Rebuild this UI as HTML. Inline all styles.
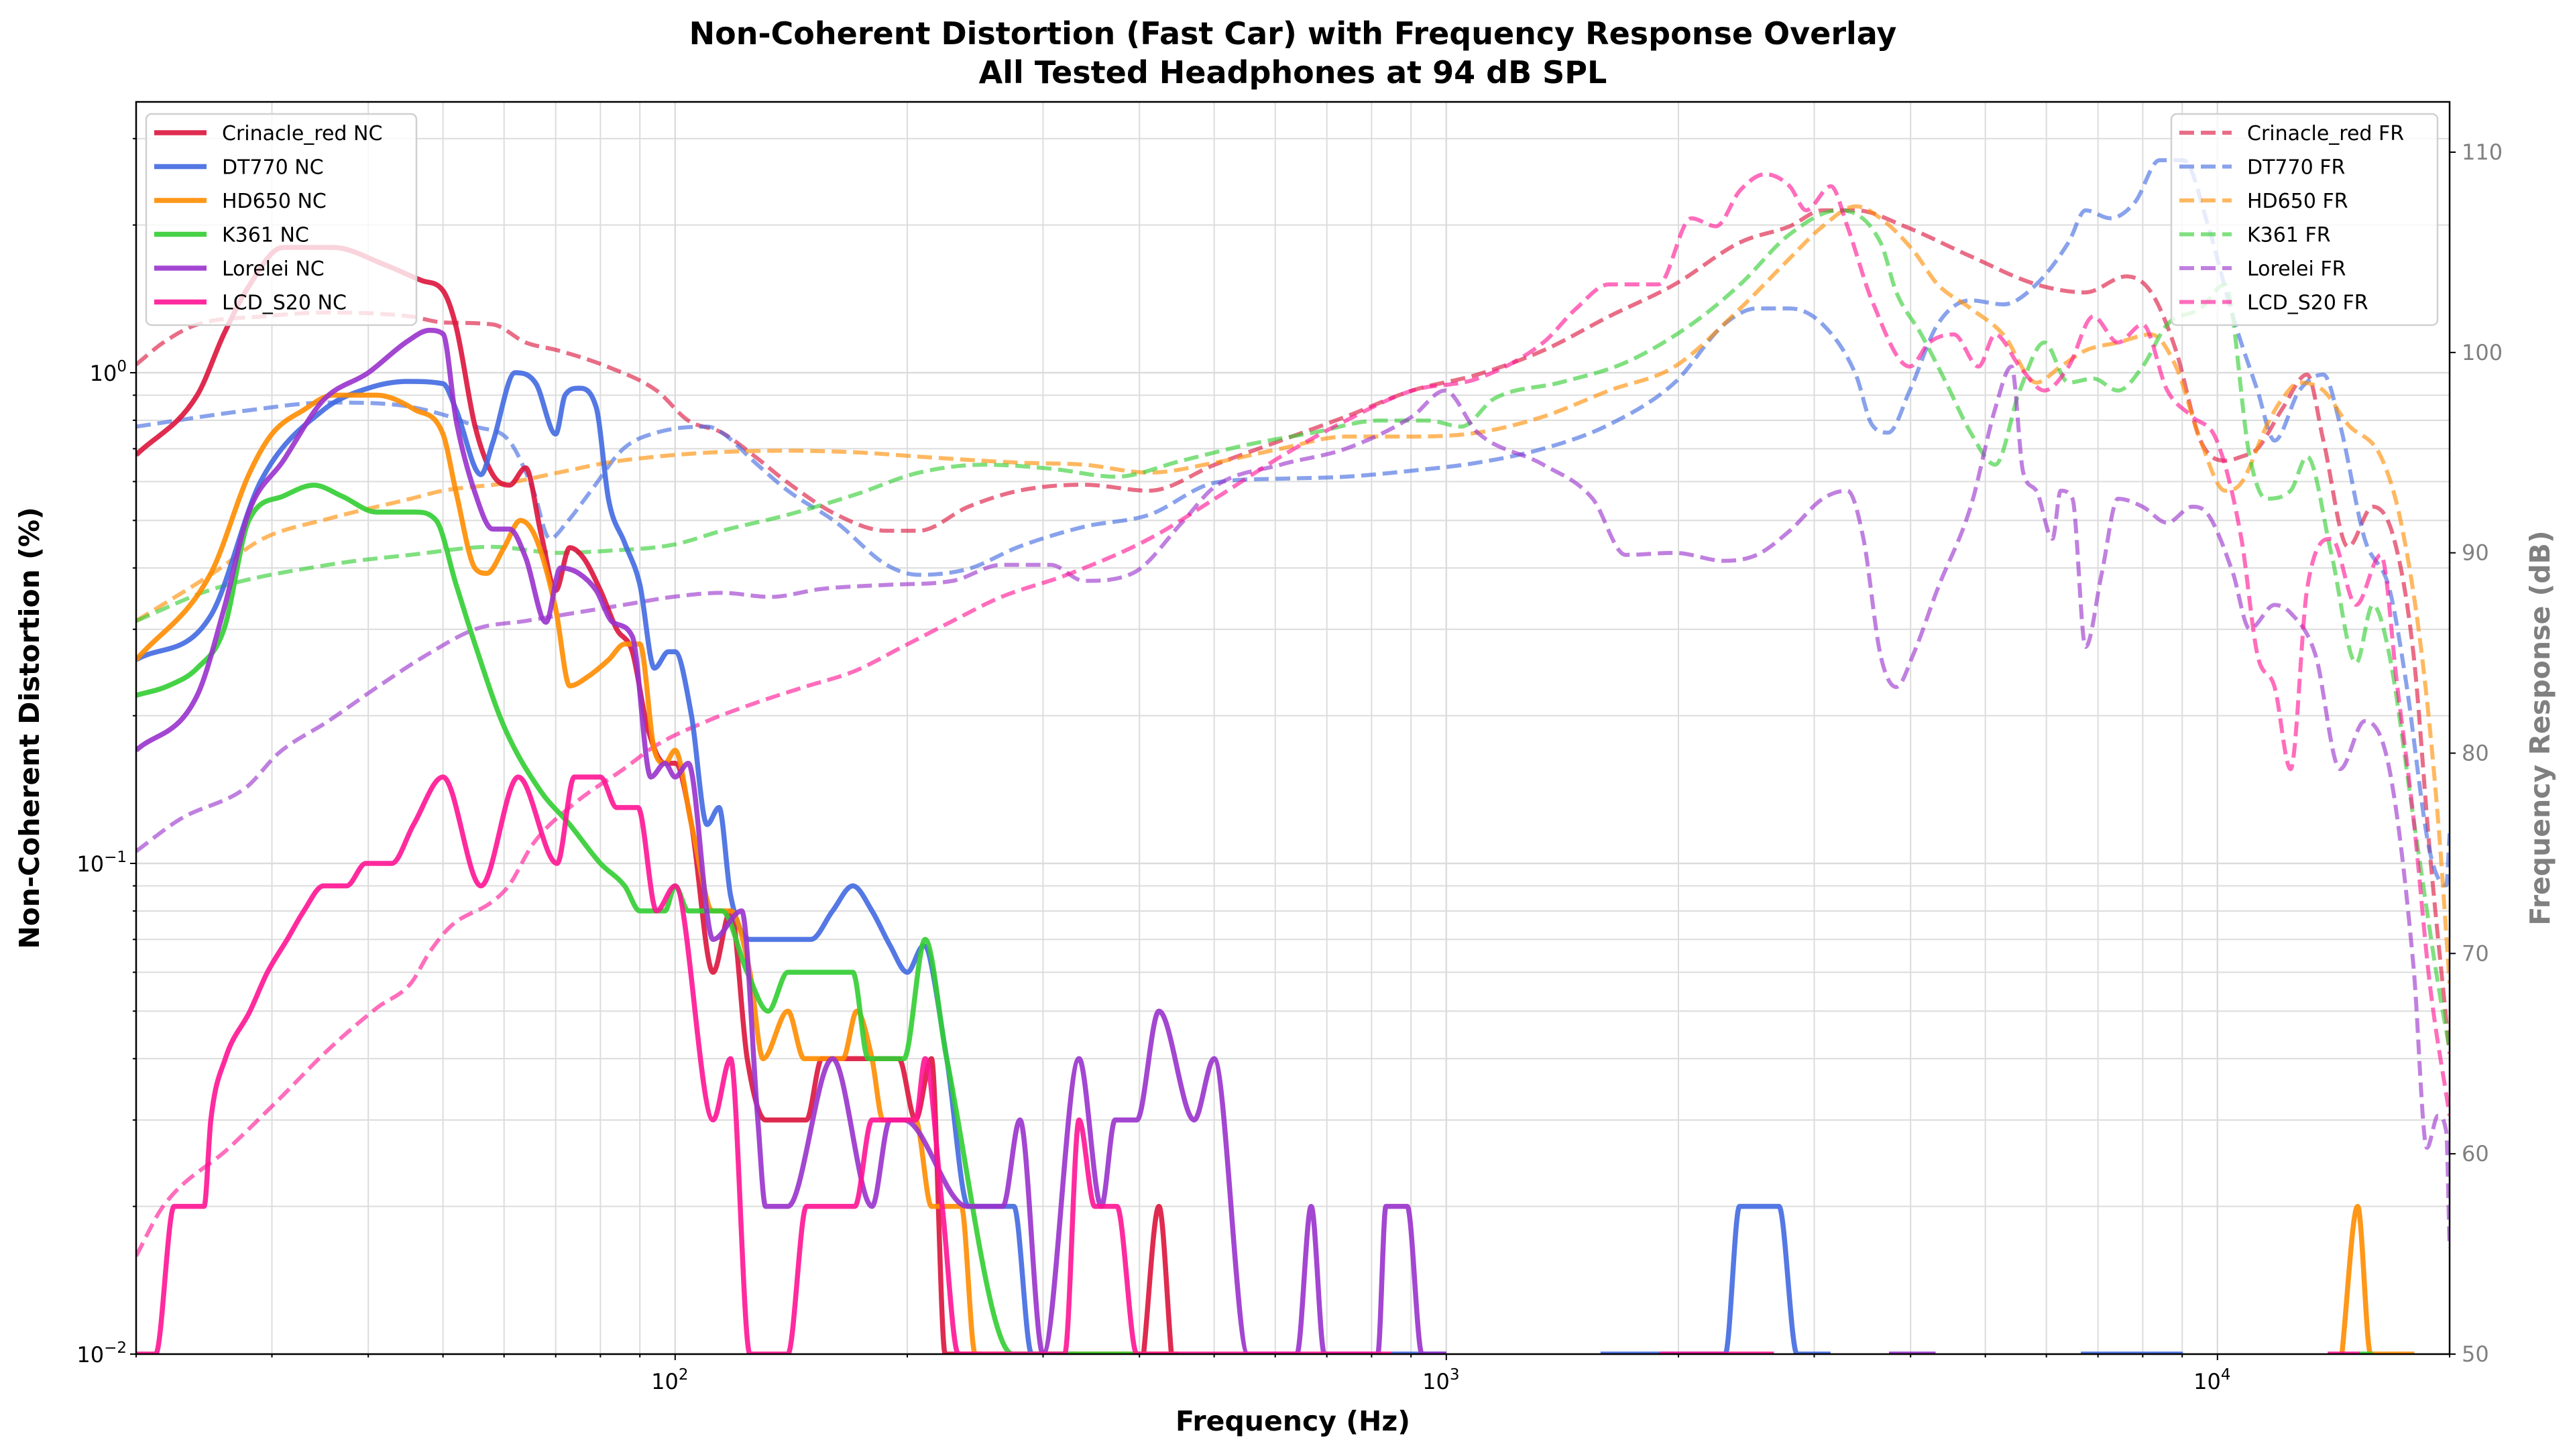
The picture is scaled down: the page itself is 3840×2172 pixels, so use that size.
<!DOCTYPE html>
<html><head><meta charset="utf-8"><style>
html,body{margin:0;padding:0;background:#fff}
svg{display:block;font-family:"DejaVu Sans","Liberation Sans",sans-serif}
</style></head><body>
<svg id="chart" width="3840" height="2172" viewBox="0 0 3840 2172" xmlns="http://www.w3.org/2000/svg">
<defs><clipPath id="plotclip"><rect x="203" y="152" width="3450" height="1868"/></clipPath></defs>
<rect width="3840" height="2172" fill="#fff"/>
<text x="1928" y="66" text-anchor="middle" font-size="46" font-weight="bold">Non-Coherent Distortion (Fast Car) with Frequency Response Overlay</text>
<text x="1928" y="124" text-anchor="middle" font-size="46" font-weight="bold">All Tested Headphones at 94 dB SPL</text>
<g id="grid"></g>
<g id="frlines" clip-path="url(#plotclip)"></g>
<g id="nclines" clip-path="url(#plotclip)"></g>
<rect x="203" y="152" width="3450" height="1868" fill="none" stroke="#000" stroke-width="2.5"/>
<g id="axes"></g>
<text x="1928" y="2134" text-anchor="middle" font-size="41" font-weight="bold">Frequency (Hz)</text>
<text transform="translate(58,1086) rotate(-90)" text-anchor="middle" font-size="41" font-weight="bold">Non-Coherent Distortion (%)</text>
<text transform="translate(3802,1086) rotate(-90)" text-anchor="middle" font-size="41" font-weight="bold" fill="#808080">Frequency Response (dB)</text>
<g id="legends"></g>
</svg>
<script>
const names = ["Crinacle_red","DT770","HD650","K361","Lorelei","LCD_S20"];
const colors = ["#dc143c","#4169e1","#ff8c00","#32cd32","#9932cc","#ff1493"];
const yTicks = [0.01,0.1,1];
const yTickLabels = ["10","10","10"];
const yTickExp = ["−2","−1","0"];
const xTicks = [100,1000,10000];
const xTickExp = ["2","3","4"];
const y2Ticks = [50,60,70,80,90,100,110];

const ncCrinacle = [[20,0.68],[24,0.9],[26,1.2],[28,1.5],[31,1.8],[36,1.8],[42,1.66],[47,1.54],[50,1.47],[52,1.24],[55,0.78],[58,0.62],[61,0.59],[64,0.64],[67,0.47],[70,0.36],[73,0.44],[76,0.42],[80,0.36],[84,0.3],[88,0.27],[92,0.19],[97,0.16],[100,0.16],[105,0.12],[112,0.06],[118,0.08],[124,0.04],[131,0.03],[148,0.03],[155,0.04],[195,0.04],[205,0.03],[215,0.04],[224,0.01],[250,0.01],null,[405,0.01],[424,0.02],[440,0.01],null];
const ncDT770 = [[20,0.26],[25,0.32],[29,0.6],[35,0.84],[40,0.93],[45,0.96],[50,0.95],[52,0.84],[56,0.62],[58,0.72],[62,1.0],[66,0.95],[70,0.75],[72,0.9],[75,0.93],[79,0.85],[82,0.55],[86,0.45],[90,0.37],[94,0.25],[98,0.27],[100,0.27],[105,0.2],[110,0.12],[114,0.13],[118,0.086],[125,0.07],[150,0.07],[160,0.08],[170,0.09],[180,0.08],[190,0.068],[200,0.06],[210,0.068],[225,0.04],[240,0.02],[275,0.02],[290,0.01],[330,0.01],null,[850,0.01],[1000,0.01],null,[1585,0.01],[2300,0.01],[2400,0.02],[2700,0.02],[2850,0.01],[3150,0.01],null,[6650,0.01],[9020,0.01],null];
const ncHD650 = [[20,0.26],[25,0.39],[28,0.62],[30,0.75],[33,0.84],[36,0.9],[41,0.9],[46,0.84],[50,0.75],[52,0.57],[55,0.4],[57,0.39],[60,0.44],[63,0.5],[66,0.46],[70,0.33],[73,0.23],[77,0.24],[82,0.26],[86,0.28],[90,0.28],[94,0.17],[97,0.16],[100,0.17],[105,0.12],[112,0.08],[118,0.08],[125,0.06],[130,0.04],[140,0.05],[147,0.04],[165,0.04],[172,0.05],[180,0.04],[186,0.03],[205,0.03],[215,0.02],[235,0.02],[245,0.01],[450,0.01],null,[14500,0.01],[15200,0.02],[15800,0.01],[18000,0.01],null];
const ncK361 = [[20,0.22],[22,0.23],[24,0.25],[26,0.3],[28,0.5],[31,0.56],[34,0.59],[37,0.56],[41,0.52],[46,0.52],[49,0.5],[52,0.37],[55,0.28],[60,0.19],[67,0.14],[73,0.12],[80,0.1],[86,0.09],[90,0.08],[97,0.08],[100,0.09],[104,0.08],[115,0.08],[124,0.06],[132,0.05],[140,0.06],[170,0.06],[178,0.04],[198,0.04],[211,0.07],[225,0.04],[274,0.01],[400,0.01],null,[15300,0.01],[15900,0.01],null];
const ncLorelei = [[20,0.17],[24,0.22],[26,0.33],[28,0.52],[31,0.66],[35,0.88],[40,1.0],[45,1.16],[48,1.22],[50,1.2],[52,0.8],[55,0.57],[58,0.48],[61,0.48],[64,0.42],[68,0.31],[71,0.4],[75,0.39],[79,0.36],[83,0.31],[88,0.29],[93,0.15],[97,0.16],[100,0.15],[104,0.16],[112,0.07],[122,0.08],[128,0.03],[131,0.02],[140,0.02],[160,0.04],[180,0.02],[190,0.03],[198,0.03],[239,0.02],[266,0.02],[280,0.03],[300,0.01],[334,0.04],[357,0.02],[372,0.03],[397,0.03],[424,0.05],[471,0.03],[500,0.04],[553,0.01],[640,0.01],[668,0.02],[695,0.01],[815,0.01],[835,0.02],[890,0.02],[930,0.01],[1000,0.01],null,[3750,0.01],[4310,0.01],null];
const ncLCD = [[20,0.01],[21.2,0.01],[22.4,0.02],[24.5,0.02],[25,0.03],[26.1,0.04],[28.1,0.05],[29.6,0.06],[31.4,0.07],[33,0.08],[35,0.09],[37.5,0.09],[39.7,0.1],[42.9,0.1],[45.8,0.12],[50,0.15],[56,0.09],[62.6,0.15],[70.3,0.1],[74,0.15],[80,0.15],[84,0.13],[89.5,0.13],[94.6,0.08],[100,0.09],[112,0.03],[118,0.04],[125,0.01],[140,0.01],[148,0.02],[171,0.02],[180,0.03],[205,0.03],[211,0.04],[222,0.02],[233,0.01],[320,0.01],[334,0.03],[350,0.02],[374,0.02],[397,0.01],[850,0.01],null,[1890,0.01],[2660,0.01],null,[13900,0.01],[15300,0.01],null];

const frCrinacle = [[20,99.4],[21.7,100.5],[24,101.4],[29.2,101.8],[35.5,102],[45.4,101.8],[50,101.5],[58,101.4],[64,100.5],[70.5,100.1],[81.6,99.3],[94.6,98.1],[104,96.6],[115,96],[127,94.8],[140,93.5],[162,91.9],[188,91.1],[207,91.1],[240,92.3],[279,93.1],[339,93.4],[412,93.1],[501,94.4],[610,95.6],[741,96.8],[903,98.1],[1098,98.9],[1336,100.1],[1626,101.8],[1978,103.4],[2405,105.5],[2788,106.3],[3077,107.1],[3396,107.1],[3929,106.3],[4786,104.8],[5823,103.4],[6745,103],[7620,103.8],[8206,103],[8834,100.1],[9508,95.6],[10230,94.6],[10740,94.8],[11270,95.2],[12140,97.2],[13070,98.9],[13720,95.6],[14770,90.3],[15900,92.3],[16940,90.7],[17960,84.9],[18850,75.1],[20000,65]];
const frDT770 = [[20,96.3],[27.8,97.1],[35.5,97.5],[43.2,97.4],[50,96.9],[55.2,96.3],[60.9,95.6],[65.5,93.1],[68.8,90.7],[72.3,91.5],[77.8,93.1],[85.7,95.2],[94.6,96],[110,96.3],[115,96],[127,94.5],[140,93.1],[162,91.5],[188,89.4],[207,88.9],[240,89.2],[279,90.3],[339,91.3],[412,91.9],[501,93.5],[610,93.7],[741,93.8],[903,94.1],[1098,94.5],[1336,95.2],[1626,96.4],[1978,98.5],[2292,101.4],[2528,102.2],[2788,102.2],[3077,101.4],[3396,98.9],[3564,96.4],[3742,96],[3990,98.1],[4336,101.4],[4786,102.6],[5275,102.4],[5823,103.4],[6411,105.5],[6745,107.1],[7262,106.7],[7816,107.5],[8411,109.6],[9040,109.6],[9730,106.3],[10470,101.8],[11270,98.1],[11860,95.6],[12770,98.1],[13720,98.9],[14420,96.4],[15520,90.7],[16710,88.2],[17540,83.7],[18850,75.1],[19800,73.4],[20000,76]];
const frHD650 = [[20,86.6],[25.2,89],[29.2,90.7],[35.5,91.7],[45.4,92.7],[50,93.1],[60.9,93.5],[70.5,94],[81.6,94.5],[94.6,94.8],[110,95],[140,95.1],[175,95],[207,94.8],[279,94.5],[339,94.4],[412,94],[501,94.5],[610,95.2],[741,95.8],[903,95.8],[1098,96],[1336,96.8],[1626,98.1],[1978,99.3],[2405,102.2],[2788,104.7],[3077,106.3],[3396,107.3],[3656,106.7],[4030,105.1],[4336,103.4],[4786,102.2],[5275,100.9],[5823,98.5],[6262,99.3],[6745,100.1],[7430,100.5],[8206,100.9],[8834,99.3],[9508,95.6],[10230,93.1],[10740,93.5],[11600,96.4],[12140,97.7],[12770,98.5],[13720,98.1],[14770,96.4],[16290,94.8],[17300,91.5],[18410,84.9],[19320,76.7],[20000,68.5]];
const frK361 = [[20,86.6],[25.2,88.2],[35.5,89.4],[45.4,89.9],[58,90.3],[70.5,90],[81.6,90.1],[99.3,90.4],[115,91.1],[140,91.9],[171,92.9],[207,94],[252,94.4],[307,94.2],[373,93.8],[454,94.6],[553,95.4],[672,96],[818,96.6],[948,96.6],[1046,96.3],[1154,97.7],[1404,98.5],[1708,99.5],[2078,101.4],[2405,103.4],[2788,105.9],[3230,107.1],[3656,105.5],[3834,103],[4130,100.9],[4446,98.5],[4786,96],[5150,94.4],[5541,98.1],[5964,100.5],[6411,98.5],[6902,98.7],[7430,98.1],[7998,99.3],[8608,101.4],[9508,102.2],[10230,103.4],[11010,94.8],[11560,92.7],[12440,93.1],[13070,94.8],[14060,89.9],[15130,84.5],[15900,87.4],[16710,84.9],[17960,76.7],[19320,68.5],[20000,65.2]];
const frLorelei = [[20,75.1],[22.8,76.7],[27.8,78.3],[30.6,80],[35.5,81.6],[41.1,83.3],[47.6,84.9],[55.2,86.2],[64,86.6],[74.1,87],[85.7,87.4],[99.3,87.8],[115,88],[133,87.8],[155,88.2],[188,88.4],[229,88.6],[265,89.4],[307,89.4],[339,88.6],[393,89],[454,91.5],[501,93.3],[610,94.4],[741,95.2],[903,96.8],[996,98.1],[1098,96],[1336,94.4],[1548,92.7],[1708,89.9],[1978,90],[2292,89.6],[2528,89.9],[2788,91.1],[3077,92.7],[3312,93.1],[3475,90.7],[3656,84.9],[3834,83.3],[4030,84.9],[4336,88.2],[4786,92.3],[5150,97.2],[5407,99.3],[5600,94],[5823,93.1],[6110,90.7],[6262,93.1],[6486,92.7],[6745,85.3],[7080,89],[7430,92.7],[7998,92.3],[8608,91.5],[9270,92.3],[9730,91.9],[10470,89],[11010,86.2],[11860,87.4],[12440,87],[13400,84.9],[14420,79.2],[15520,81.6],[16710,79.2],[17960,69.3],[18690,60.3],[19320,61.9],[19800,61.1],[20000,55.3]];
const frLCD = [[20,54.9],[21.7,57.4],[26.4,60.3],[30.6,62.7],[35.5,65.2],[41.1,67.3],[45.4,68.5],[48.1,70.1],[51.3,71.4],[58,72.6],[60.9,73.4],[65.5,75.5],[74.1,77.5],[85.7,79.2],[94.6,80.4],[110,81.6],[127,82.5],[147,83.3],[171,84.1],[197,85.3],[229,86.6],[265,87.8],[322,88.9],[412,90.7],[501,92.7],[610,94.8],[741,96.6],[903,98.1],[1098,98.7],[1336,100.5],[1474,102.2],[1626,103.4],[1884,103.4],[2078,106.7],[2237,106.3],[2405,108.1],[2591,108.9],[2788,108.3],[2929,107.1],[3153,108.3],[3312,106.3],[3564,102.6],[3990,99.3],[4230,100.5],[4552,100.9],[4900,99.3],[5150,100.9],[5541,99.3],[5964,98.1],[6411,99.3],[6902,101.8],[7430,100.5],[7998,101.4],[8608,98.1],[9270,96.8],[9980,95.6],[10740,90.7],[11270,84.9],[11860,83.3],[12440,79.2],[13070,88.2],[14060,90.7],[15130,87.4],[16290,89.9],[17110,83.3],[17960,76.7],[18850,68.5],[20000,61.9]];

const ncSeries = [ncCrinacle,ncDT770,ncHD650,ncK361,ncLorelei,ncLCD];
const frSeries = [frCrinacle,frDT770,frHD650,frK361,frLorelei,frLCD];

const L=203,R=3653,T=152,B=2020;
const X_MIN=Math.log10(20),X_MAX=Math.log10(20000);
function xS(f){return L+(Math.log10(f)-X_MIN)/(X_MAX-X_MIN)*(R-L);}
const Y_DEC=732, Y_ONE=556;
function yS(v){return Y_ONE-Math.log10(v)*Y_DEC;}
function y2S(d){return B-(d-50)*((B-227)/60);}
const NS="http://www.w3.org/2000/svg";
function mk(tag,attrs,parent){const e=document.createElementNS(NS,tag);for(const k in attrs)e.setAttribute(k,attrs[k]);parent.appendChild(e);return e;}

function monoPath(pts){
  const n=pts.length; if(n<2)return "";
  const d=[],m=new Array(n);
  for(let i=0;i<n-1;i++){const dx=pts[i+1][0]-pts[i][0];d.push(dx===0?0:(pts[i+1][1]-pts[i][1])/dx);}
  m[0]=d[0];m[n-1]=d[n-2];
  for(let i=1;i<n-1;i++){m[i]=(d[i-1]*d[i]<=0)?0:(d[i-1]+d[i])/2;}
  for(let i=0;i<n-1;i++){if(d[i]===0){m[i]=0;m[i+1]=0;continue;}const a=m[i]/d[i],b=m[i+1]/d[i],s=a*a+b*b;if(s>9){const t=3/Math.sqrt(s);m[i]=t*a*d[i];m[i+1]=t*b*d[i];}}
  let p="M"+pts[0][0].toFixed(1)+","+pts[0][1].toFixed(1);
  for(let i=0;i<n-1;i++){const dx=(pts[i+1][0]-pts[i][0])/3;
    p+="C"+(pts[i][0]+dx).toFixed(1)+","+(pts[i][1]+m[i]*dx).toFixed(1)+" "+(pts[i+1][0]-dx).toFixed(1)+","+(pts[i+1][1]-m[i+1]*dx).toFixed(1)+" "+pts[i+1][0].toFixed(1)+","+pts[i+1][1].toFixed(1);}
  return p;
}
function segPath(series,xf,yf){
  let out="",cur=[];
  series.forEach(p=>{if(p===null){out+=monoPath(cur);cur=[];}else cur.push([xf(p[0]),yf(p[1])]);});
  out+=monoPath(cur);return out;
}

const grid=document.getElementById('grid');
for(let dec=1;dec<=4;dec++){for(let k=1;k<10;k++){const f=k*Math.pow(10,dec);if(f<20||f>20000)continue;const x=xS(f);
  const ln=mk('line',{x1:x,x2:x,y1:T,y2:B,stroke:'#dcdcdc','stroke-width':k===1?2.5:2},grid);
  
  }}
for(let dec=-2;dec<=0;dec++){for(let k=1;k<10;k++){const v=k*Math.pow(10,dec);const y=yS(v);if(y<T||y>B)continue;
  const ln=mk('line',{x1:L,x2:R,y1:y,y2:y,stroke:'#dcdcdc','stroke-width':k===1?2.5:2},grid);
  
  }}

const axes=document.getElementById('axes');
for(let dec=1;dec<=4;dec++){for(let k=1;k<10;k++){const f=k*Math.pow(10,dec);if(f<20||f>20000)continue;const x=xS(f);
  const t=mk('line',{x1:x,x2:x,y1:B,y2:B+(k===1?9:5),stroke:'#000','stroke-width':2},axes);
  
  }}
xTicks.forEach((f,i)=>{const t=mk('text',{x:xS(f)-8,y:B+52,'text-anchor':'middle','font-size':32},axes);
  
  
  t.textContent='10';const s=mk('tspan',{dy:-14,'font-size':23},t);s.textContent=xTickExp[i];});
for(let dec=-2;dec<=0;dec++){for(let k=1;k<10;k++){const v=k*Math.pow(10,dec);const y=yS(v);if(y<T-1||y>B+1)continue;
  const t=mk('line',{x1:L-(k===1?9:5),x2:L,y1:y,y2:y,stroke:'#000','stroke-width':2},axes);
  
  }}
yTicks.forEach((v,i)=>{const t=mk('text',{x:L-14,y:yS(v)+12,'text-anchor':'end','font-size':32},axes);
  
  
  t.textContent=yTickLabels[i];const s=mk('tspan',{dy:-14,'font-size':23},t);s.textContent=yTickExp[i];});
y2Ticks.forEach(d=>{const y=y2S(d);
  const t=mk('line',{x1:R,x2:R+9,y1:y,y2:y,stroke:'#000','stroke-width':2},axes);
  
  
  const lb=mk('text',{x:R+18,y:y+11,'font-size':32,fill:'#808080'},axes);
  
  
  lb.textContent=String(d);});

const frg=document.getElementById('frlines');
frSeries.forEach((s,i)=>{
  const p=mk('path',{d:segPath(s,xS,y2S),fill:'none',stroke:colors[i],'stroke-width':6,'stroke-dasharray':'22 10','stroke-opacity':0.62,'stroke-linejoin':'round'},frg);
  
  });
const ncg=document.getElementById('nclines');
ncSeries.forEach((s,i)=>{
  const p=mk('path',{d:segPath(s,xS,yS),fill:'none',stroke:colors[i],'stroke-width':7.5,'stroke-opacity':0.9,'stroke-linejoin':'round'},ncg);
  
  });

const lg=document.getElementById('legends');
function legend(x0,y0,w,suffix,dashed,side){
  const g=mk('g',{},lg);
  
  
  mk('rect',{x:x0,y:y0,width:w,height:315,rx:8,fill:'#fff','fill-opacity':0.8,stroke:'#d0d0d0','stroke-width':2.5},g);
  names.forEach((n,i)=>{const y=y0+28+i*50.5;
    const ln=mk('line',{x1:x0+12,x2:x0+90,y1:y,y2:y,stroke:colors[i],'stroke-width':dashed?6:7.5,'stroke-opacity':dashed?0.62:0.9,'stroke-dasharray':dashed?'22 10':'none'},g);
    
    
    const t=mk('text',{x:x0+113,y:y+11,'font-size':30},g);
    
    
    t.textContent=n+' '+suffix;});
}
legend(218,170,403,'NC',false,'left');
legend(3238,170,397,'FR',true,'right');
</script>
</body></html>
